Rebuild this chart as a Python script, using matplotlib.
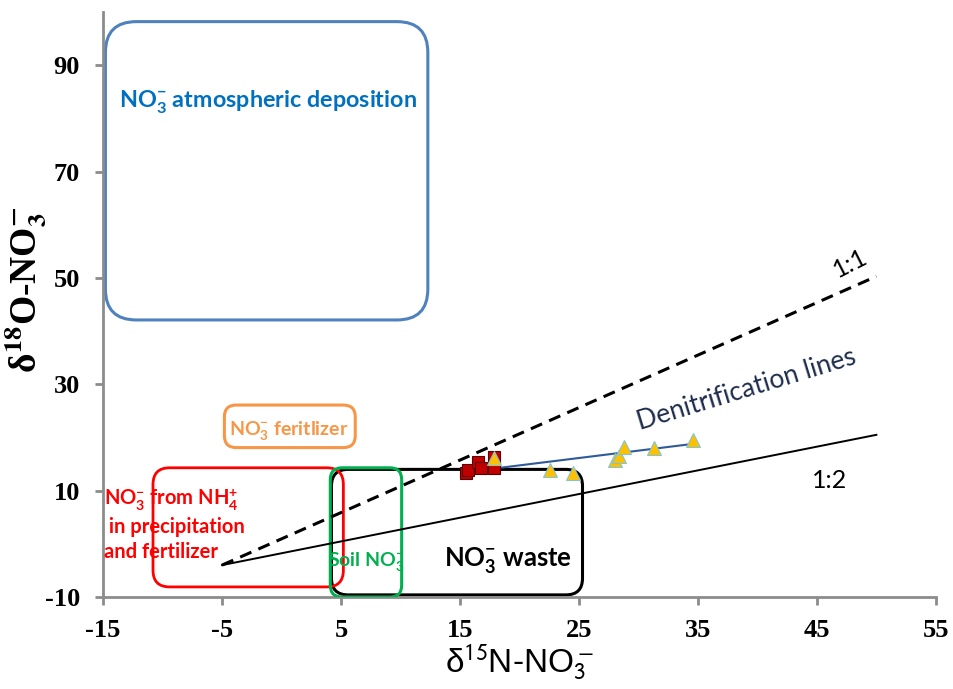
import matplotlib
matplotlib.use("Agg")
import matplotlib.pyplot as plt
from matplotlib.patches import FancyBboxPatch

plt.rcParams['mathtext.fontset'] = 'custom'
plt.rcParams['mathtext.rm'] = 'Lato'
plt.rcParams['mathtext.bf'] = 'Lato:bold'
plt.rcParams['axes.unicode_minus'] = False

# measured samples
sq_n = [15.5, 15.7, 16.5, 16.8, 17.9, 17.9]
sq_o = [13.3, 13.9, 15.3, 14.3, 14.2, 16.4]
tri_n = [17.9, 22.6, 24.5, 28.0, 28.4, 28.8, 31.3, 34.6]
tri_o = [16.2, 13.8, 13.4, 15.7, 16.6, 18.3, 18.1, 19.6]
trend_n = [18.0, 34.6]
trend_o = [14.2, 18.8]

# denitrification reference lines
line_start = (-5, -4)
line_11_end = (50, 50.3)
line_12_end = (50, 20.5)

# source fields: (x0, x1, y0, y1)
box_atm = (-14.8, 12.3, 42.1, 98.2)
box_fert = (-4.8, 6.2, 18.1, 26.1)
box_nh4 = (-10.8, 5.2, -8.1, 14.3)
box_waste = (4.2, 25.3, -9.6, 14.0)
box_soil = (4.1, 10.1, -10.0, 14.3)

xticks = [-15, -5, 5, 15, 25, 35, 45, 55]
yticks = [-10, 10, 30, 50, 70, 90]

W, H = 9.54, 6.89
pos = [0.108, 0.1335, 0.873, 0.849]
fig = plt.figure(figsize=(W, H), dpi=100)
ax = fig.add_axes(pos)
ax.set_xlim(-15, 55)
ax.set_ylim(-10, 100)

# screen size of one x unit over one y unit, keeps the corners round
aspect = (pos[2] * W / 70) / (pos[3] * H / 110)


def rbox(b, color, lw, rad, z):
    x0, x1, y0, y1 = b
    p = FancyBboxPatch((x0 + rad, y0 + rad * aspect), x1 - x0 - 2 * rad,
                       y1 - y0 - 2 * rad * aspect,
                       boxstyle=f"round,pad={rad},rounding_size={rad}",
                       mutation_aspect=aspect, fill=False, ec=color, lw=lw,
                       zorder=z)
    ax.add_patch(p)


rbox(box_atm, '#4F81BD', 2.2, 2.6, 2)
rbox(box_fert, '#F79646', 2.2, 1.0, 2)
rbox(box_waste, 'black', 2.2, 1.4, 2)
rbox(box_nh4, '#FF0000', 2.0, 1.4, 3)
rbox(box_soil, '#00B050', 2.2, 1.0, 4)

ax.plot([line_start[0], line_11_end[0]], [line_start[1], line_11_end[1]],
        color='black', lw=2.2, ls=(0, (4, 2.5)), zorder=5)
ax.plot([line_start[0], line_12_end[0]], [line_start[1], line_12_end[1]],
        color='black', lw=1.4, zorder=5)

ax.plot(trend_n, trend_o, color='#2E5A9A', lw=1.5, zorder=6)
ax.plot(sq_n, sq_o, ls='none', marker='s', ms=9, mfc='#C00000',
        mec='#5A0000', mew=0.8, zorder=7)
ax.plot(tri_n, tri_o, ls='none', marker='^', ms=9.5, mfc='#FFC000',
        mec='#7FC6DB', mew=0.8, zorder=8)

lato = ['Lato', 'DejaVu Sans']
ax.text(-1.1, 83.0, r'NO$_\mathbf{3}^\mathbf{-}$ atmospheric deposition',
        color='#0070C0', fontsize=16.8, fontweight='bold', family=lato,
        ha='center', va='center', zorder=9)
ax.text(0.6, 21.1, r'NO$_\mathbf{3}^\mathbf{-}$ feritlizer', color='#F79646',
        fontsize=14, fontweight='bold', family=lato, ha='center',
        va='center', zorder=9)
ax.text(-14.9, 3.7,
        'NO$_\\mathbf{3}^\\mathbf{-}$ from NH$_\\mathbf{4}^\\mathbf{+}$\n'
        ' in precipitation\nand fertilizer',
        color='#FF0000', fontsize=14.5, fontweight='bold', family=lato,
        ha='left', va='center', linespacing=1.3, zorder=9)
ax.text(3.9, -3.4, r'Soil NO$_\mathbf{3}^\mathbf{-}$', color='#00B050',
        fontsize=14, fontweight='bold', family=lato, ha='left',
        va='center', zorder=9)
ax.text(19.0, -3.1, r'NO$_\mathbf{3}^\mathbf{-}$ waste', color='black',
        fontsize=18.5, fontweight='bold', family=lato, ha='center',
        va='center', zorder=9)
ax.text(47.8, 52.8, '1:1', fontsize=18, family=lato, rotation=27,
        ha='center', va='center', zorder=9)
ax.text(46.1, 12.0, '1:2', fontsize=18, family=lato, ha='center',
        va='center', zorder=9)
ax.text(39.1, 29.0, 'Denitrification lines', color='#1F2D4D', fontsize=19,
        family=lato, rotation=17, ha='center', va='center', zorder=9)

for s in ['top', 'right']:
    ax.spines[s].set_visible(False)
for s in ['left', 'bottom']:
    ax.spines[s].set_color('#8C8C8C')
    ax.spines[s].set_linewidth(2)
ax.set_xticks(xticks)
ax.set_yticks(yticks)
ax.tick_params(direction='out', length=5.5, width=2, color='#8C8C8C')
for lab in ax.get_xticklabels() + ax.get_yticklabels():
    lab.set_family('Liberation Serif')
    lab.set_fontweight('bold')
    lab.set_fontsize(19)
ax.tick_params(axis='x', pad=10)
ax.tick_params(axis='y', pad=11)

ax.set_xlabel(r'δ$^{15}$N-NO$_3^-$', fontsize=24,
              family=['Liberation Sans Narrow', 'Liberation Sans'],
              math_fontfamily='stixsans')
ax.xaxis.set_label_coords(0.5, -0.078)
ax.set_ylabel(r'δ$^{\mathbf{18}}$O-NO$_{\mathbf{3}}^{\mathbf{-}}$',
              fontsize=27, family='Liberation Serif', fontweight='bold',
              math_fontfamily='stix')
ax.yaxis.set_label_coords(-0.066, 0.525)

fig.savefig('out.png', dpi=100)
